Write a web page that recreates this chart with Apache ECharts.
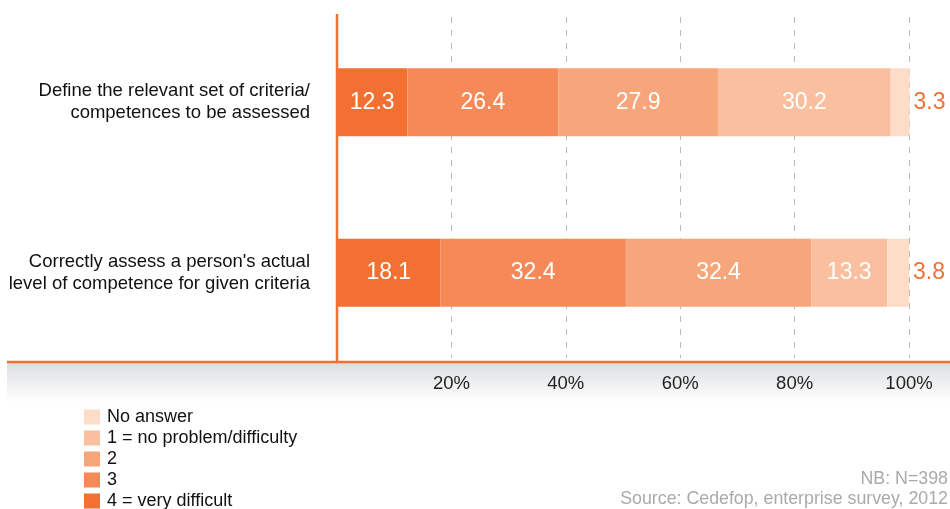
<!DOCTYPE html>
<html>
<head>
<meta charset="utf-8">
<script src="https://cdn.jsdelivr.net/npm/echarts@6/dist/echarts.min.js"></script>
<style>
html,body{margin:0;padding:0;background:#fff;}
#chart{width:950px;height:509px;}
</style>
</head>
<body>
<div id="chart"></div>
<script>
var categories = [
  "Define the relevant set of criteria/\ncompetences to be assessed",
  "Correctly assess a person's actual\nlevel of competence for given criteria"
];
var seriesNames = ["4 = very difficult", "3", "2", "1 = no problem/difficulty", "No answer"];
var veryDifficult = [12.3, 18.1];
var three = [26.4, 32.4];
var two = [27.9, 32.4];
var noProblem = [30.2, 13.3];
var noAnswer = [3.3, 3.8];
var tickValues = [20, 40, 60, 80, 100];
var legendOrder = ["No answer", "1 = no problem/difficulty", "2", "3", "4 = very difficult"];
var noteLines = ["NB: N=398", "Source: Cedefop, enterprise survey, 2012"];

var colors = ["#F37033", "#F58A58", "#F7A57A", "#F9BF9E", "#FDDCC8"];
var FONT = "Liberation Sans, Arial, Helvetica, sans-serif";
var seriesData = [veryDifficult, three, two, noProblem, noAnswer];

var chart = echarts.init(document.getElementById('chart'), null, {renderer: 'canvas'});

var series = seriesData.map(function (d, i) {
  var last = i === seriesData.length - 1;
  return {
    name: seriesNames[i],
    type: 'bar',
    stack: 'total',
    barWidth: 68,
    clip: false,
    itemStyle: {color: colors[i]},
    emphasis: {disabled: true},
    label: {
      show: true,
      position: last ? 'right' : 'inside',
      distance: 4,
      color: last ? '#F37033' : '#ffffff',
      fontFamily: FONT,
      fontSize: 23,
      formatter: function (p) { return p.value.toFixed(1); }
    },
    data: d
  };
});

var option = {
  backgroundColor: '#ffffff',
  animation: false,
  grid: {left: 337, right: 41, top: 17, bottom: 151, containLabel: false},
  xAxis: {
    type: 'value',
    min: 0,
    max: 100,
    interval: 20,
    axisLine: {show: false},
    axisTick: {show: false},
    axisLabel: {
      margin: 16,
      color: '#222222',
      fontFamily: FONT,
      fontSize: 18.5,
      formatter: function (v) { return tickValues.indexOf(v) >= 0 ? v + '%' : ''; }
    },
    splitLine: {
      show: true,
      lineStyle: {color: '#bbbbbb', type: [6, 7], width: 1}
    }
  },
  yAxis: {
    type: 'category',
    inverse: true,
    data: categories,
    axisLine: {show: false},
    axisTick: {show: false},
    axisLabel: {
      margin: 27,
      color: '#111111',
      fontFamily: FONT,
      fontSize: 18.5,
      lineHeight: 22,
      align: 'right'
    }
  },
  legend: {
    orient: 'vertical',
    left: 84,
    top: 408,
    height: 140,
    padding: 0,
    data: legendOrder,
    icon: 'rect',
    itemWidth: 16,
    itemHeight: 15,
    itemGap: 3,
    selectedMode: false,
    textStyle: {color: '#111111', fontFamily: FONT, fontSize: 18, lineHeight: 17.5, padding: [0, 0, 0, 2]}
  },
  graphic: [
    {
      type: 'rect',
      z: 0,
      shape: {x: 7, y: 362, width: 943, height: 40},
      style: {
        fill: new echarts.graphic.LinearGradient(0, 0, 0, 1, [
          {offset: 0, color: '#dcdde0'},
          {offset: 1, color: '#ffffff'}
        ])
      }
    },
    {
      type: 'line',
      z: 10,
      shape: {x1: 337, y1: 14, x2: 337, y2: 362},
      style: {stroke: '#F37033', lineWidth: 2.5}
    },
    {
      type: 'line',
      z: 10,
      shape: {x1: 7, y1: 362, x2: 950, y2: 362},
      style: {stroke: '#F37033', lineWidth: 2.5}
    },
    {
      type: 'text',
      right: 2,
      top: 470,
      style: {text: noteLines[0], fill: '#aaaaaa', font: '17.8px ' + FONT, textAlign: 'right'}
    },
    {
      type: 'text',
      right: 2,
      top: 490,
      style: {text: noteLines[1], fill: '#aaaaaa', font: '17.8px ' + FONT, textAlign: 'right'}
    }
  ],
  series: series
};
chart.setOption(option);
</script>
</body>
</html>
